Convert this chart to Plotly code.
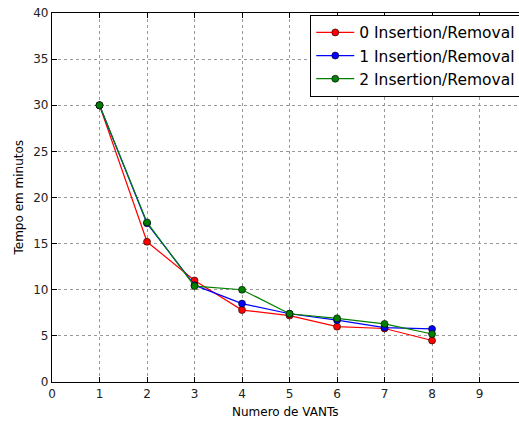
import plotly.graph_objects as go

x_vants = [1, 2, 3, 4, 5, 6, 7, 8]
serie_0 = [30.0, 15.2, 11.0, 7.8, 7.2, 6.0, 5.8, 4.5]
serie_1 = [30.0, 17.2, 10.5, 8.5, 7.4, 6.7, 5.9, 5.75]
serie_2 = [30.0, 17.3, 10.4, 10.0, 7.4, 6.9, 6.3, 5.2]
names = ["0 Insertion/Removal", "1 Insertion/Removal", "2 Insertion/Removal"]
colors = ["#ff0000", "#0000ff", "#007f00"]
x_ticks = [0, 1, 2, 3, 4, 5, 6, 7, 8, 9]
y_ticks = [0, 5, 10, 15, 20, 25, 30, 35, 40]

fig = go.Figure()
for ys, nm, c in zip([serie_0, serie_1, serie_2], names, colors):
    fig.add_trace(go.Scatter(
        x=x_vants, y=ys, mode="lines+markers", name=nm,
        line=dict(color=c, width=1.2),
        marker=dict(color=c, size=7, line=dict(color="black", width=0.6)),
    ))

axis_common = dict(
    showline=True, linecolor="black", linewidth=1.2,
    ticks="inside", ticklen=5, tickcolor="black",
    showgrid=True, gridcolor="#999999", griddash="dot", gridwidth=1,
    zeroline=False, tickfont=dict(size=12, color="#222"), automargin=False,
    ticklabeloverflow="allow",
)
fig.update_layout(
    width=519, height=421,
    margin=dict(l=52, r=0, t=13, b=39, autoexpand=False),
    paper_bgcolor="white", plot_bgcolor="white",
    font=dict(family="DejaVu Sans", color="black"),
    xaxis=dict(range=[0, 9.83], tickvals=x_ticks, mirror="ticks", **axis_common),
    yaxis=dict(range=[0, 40], tickvals=y_ticks, mirror=False, **axis_common),
    legend=dict(x=0.553, y=0.995, xanchor="left", yanchor="top",
                bgcolor="white", bordercolor="black", borderwidth=1,
                font=dict(size=15.5), tracegroupgap=0, itemwidth=38),
    showlegend=True,
    annotations=[
        dict(text="Numero de VANTs", xref="paper", yref="paper",
             x=0.5, y=0, yshift=-30, xanchor="center", yanchor="middle",
             showarrow=False, font=dict(size=12, color="black")),
        dict(text="Tempo em minutos", xref="paper", yref="paper",
             x=0, y=0.5, xshift=-34, xanchor="center", yanchor="middle",
             textangle=-90, showarrow=False, font=dict(size=12, color="black")),
    ],
)
# remove the default 8px page margin so the figure fills the window exactly
fig.write_html("out.html", config={"displayModeBar": False},
               post_script="document.body.style.margin='0px';")
